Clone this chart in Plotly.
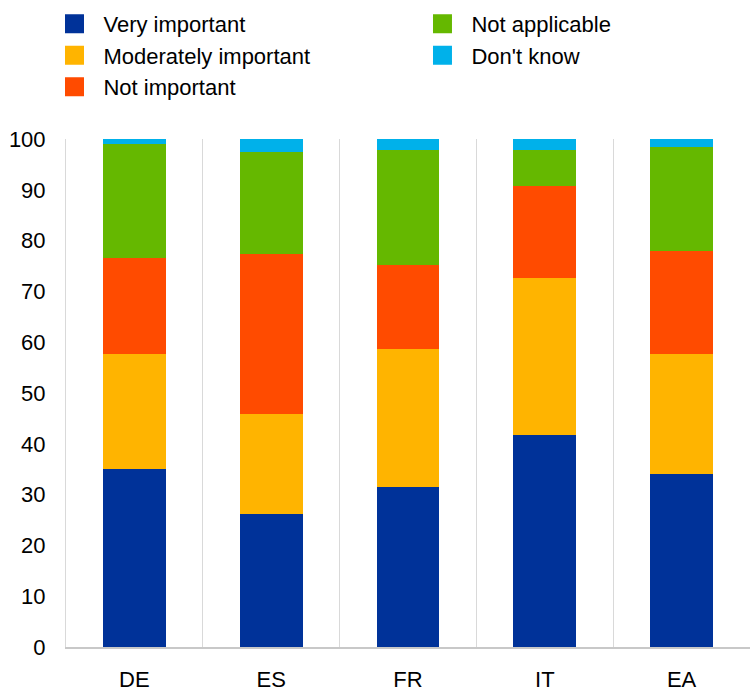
import plotly.graph_objects as go

countries = ["DE", "ES", "FR", "IT", "EA"]

very_important = [35.0, 26.2, 31.5, 41.7, 34.0]
moderately_important = [22.6, 19.7, 27.2, 31.0, 23.7]
not_important = [18.9, 31.4, 16.4, 18.1, 20.2]
not_applicable = [22.5, 20.1, 22.7, 7.0, 20.5]
dont_know = [1.0, 2.6, 2.2, 2.2, 1.6]

series = [
    ("Very important", very_important, "#003299", "legend"),
    ("Moderately important", moderately_important, "#FFB400", "legend"),
    ("Not important", not_important, "#FF4B00", "legend"),
    ("Not applicable", not_applicable, "#65B800", "legend2"),
    ("Don't know", dont_know, "#00B1EA", "legend2"),
]

FONT = "Liberation Sans, Arial, sans-serif"

fig = go.Figure()
for name, vals, color, leg in series:
    fig.add_trace(go.Bar(
        x=countries, y=vals, name=name,
        marker=dict(color=color, line=dict(width=0)),
        showlegend=False,
    ))
    # square legend markers
    fig.add_trace(go.Scatter(
        x=[None], y=[None], mode="markers", name=name,
        marker=dict(symbol="square", size=20, color=color,
                    line=dict(width=3, color=color)),
        legend=leg,
    ))

legend_common = dict(
    font=dict(family=FONT, size=22, color="#000000"),
    bgcolor="rgba(0,0,0,0)",
    orientation="v",
    yanchor="top",
    xanchor="left",
    itemclick=False,
    tracegroupgap=0,
    traceorder="normal",
    itemwidth=48,
)

fig.update_layout(
    width=750, height=692,
    margin=dict(l=66, r=0, t=139, b=41),
    paper_bgcolor="white",
    plot_bgcolor="white",
    barmode="stack",
    bargap=0.54,
    font=dict(family=FONT, size=22, color="#000000"),
    legend=dict(x=-0.03, y=1.268, **legend_common),
    legend2=dict(x=0.508, y=1.268, **legend_common),
    xaxis=dict(
        type="category",
        tickson="boundaries",
        showgrid=True, gridcolor="#d9d9d9", gridwidth=1,
        showline=True, linecolor="#c8c8c8", linewidth=2,
        ticks="", ticklabelstandoff=12,
        tickfont=dict(family=FONT, size=22),
        fixedrange=True,
    ),
    yaxis=dict(
        range=[0, 100],
        tickvals=list(range(0, 101, 10)),
        showgrid=False, zeroline=False,
        showline=True, linecolor="#d9d9d9", linewidth=1,
        ticks="", ticklabelstandoff=15,
        tickfont=dict(family=FONT, size=22),
        fixedrange=True,
    ),
)

fig.write_html("out.html")
